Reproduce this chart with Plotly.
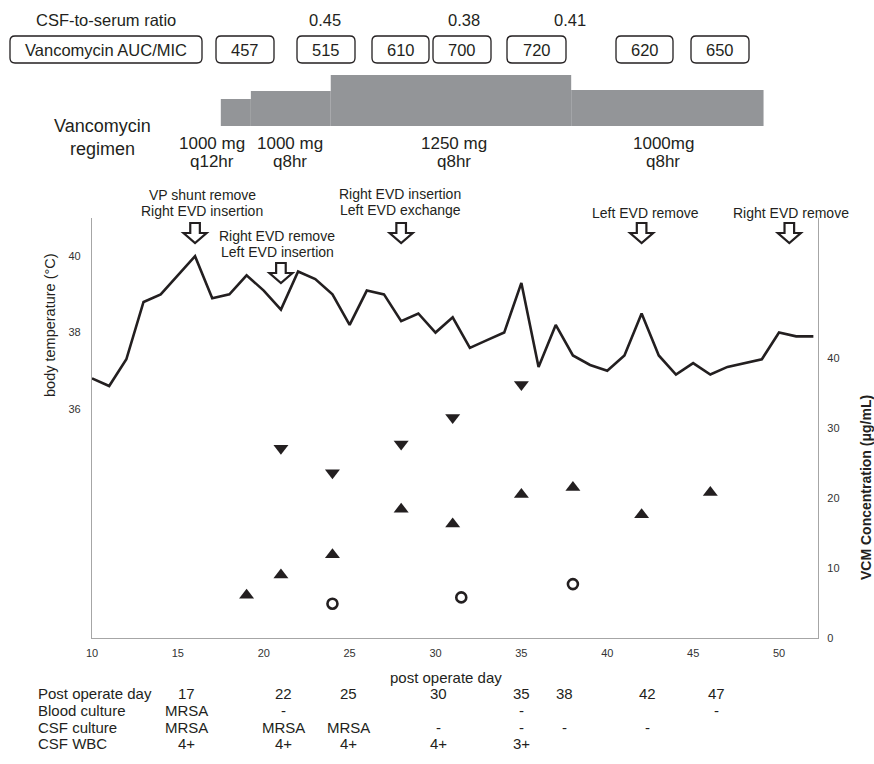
import plotly.graph_objects as go

# ---------------- data ----------------
days = list(range(10, 53))
temperature = [36.8, 36.6, 37.3, 38.8, 39.0, 39.5, 40.0, 38.9, 39.0, 39.5,
               39.1, 38.6, 39.6, 39.4, 39.0, 38.2, 39.1, 39.0, 38.3, 38.5,
               38.0, 38.4, 37.6, 37.8, 38.0, 39.3, 37.1, 38.2, 37.4, 37.15,
               37.0, 37.4, 38.5, 37.4, 36.9, 37.2, 36.9, 37.1, 37.2, 37.3,
               38.0, 37.9, 37.9]

peak_days = [21, 24, 28, 31, 35]
peak_conc = [27.1, 23.6, 27.7, 31.5, 36.2]

trough_days = [19, 21, 24, 28, 31, 35, 38, 42, 46]
trough_conc = [6.1, 9.0, 11.9, 18.4, 16.3, 20.5, 21.5, 17.6, 20.8]

csf_days = [24, 31.5, 38]
csf_conc = [4.9, 5.8, 7.7]

event_days = [16, 21, 28, 42, 50.6]
event_labels = [["VP shunt remove", "Right EVD insertion"],
                ["Right EVD remove", "Left EVD insertion"],
                ["Right EVD insertion", "Left EVD exchange"],
                ["Left EVD remove"],
                ["Right EVD remove"]]

regimen_start = [17.5, 19.25, 23.9, 37.9]
regimen_end = [19.25, 23.9, 37.9, 49.1]
regimen_level = [27, 35, 51, 36]
regimen_labels = [["1000 mg", "q12hr"], ["1000 mg", "q8hr"],
                  ["1250 mg", "q8hr"], ["1000mg", "q8hr"]]

auc_mic = ["457", "515", "610", "700", "720", "620", "650"]
csf_serum_ratio = ["0.45", "0.38", "0.41"]

table_days = ["17", "22", "25", "30", "35", "38", "42", "47"]
blood_culture = ["MRSA", "-", "", "", "-", "", "", "-"]
csf_culture = ["MRSA", "MRSA", "MRSA", "-", "-", "-", "-", ""]
csf_wbc = ["4+", "4+", "4+", "4+", "3+", "", "", ""]

x_ticks = [10, 15, 20, 25, 30, 35, 40, 45, 50]
temp_ticks = [36, 38, 40]
conc_ticks = [0, 10, 20, 30, 40]

# ---------------- layout helpers ----------------
W, H = 874, 764
L, R, T, B = 92, 56, 218, 126
PW, PH = W - L - R, H - T - B
XMAX = 52.27
FONT = "Liberation Sans, Arial, sans-serif"
AX = "#a6a6a6"
INK = "#231f20"


def fx(px):
    return (px - L) / PW


def fy(py):
    return (H - B - py) / PH


def text(cx, cy, t, size, anchor="center", angle=0):
    return dict(x=fx(cx), y=fy(cy), xref="paper", yref="paper", text=t,
                showarrow=False, xanchor=anchor, yanchor="middle",
                textangle=angle, font=dict(size=size, color=INK, family=FONT))


fig = go.Figure()

fig.add_trace(go.Scatter(x=days, y=temperature, mode="lines",
                         line=dict(color=INK, width=2.6), yaxis="y",
                         showlegend=False, hoverinfo="skip"))
fig.add_trace(go.Scatter(x=peak_days, y=peak_conc, mode="markers",
                         marker=dict(symbol="triangle-down", size=13, color=INK),
                         yaxis="y2", showlegend=False))
fig.add_trace(go.Scatter(x=trough_days, y=trough_conc, mode="markers",
                         marker=dict(symbol="triangle-up", size=13, color=INK),
                         yaxis="y2", showlegend=False))
fig.add_trace(go.Scatter(x=csf_days, y=csf_conc, mode="markers",
                         marker=dict(symbol="circle-open", size=10, color=INK,
                                     line=dict(width=2.6, color=INK)),
                         yaxis="y2", showlegend=False))

shapes = []
annotations = []

# event arrows (open block arrows)
arrow_top_px = [223, 263, 223, 223, 223]
day_px = PW / (XMAX - 10)
hw_shaft = 4.8 / day_px
hw_head = 11.5 / day_px
for d, top in zip(event_days, arrow_top_px):
    y_top, y_mid, y_tip = fy(top), fy(top + 10), fy(top + 20)
    path = (f"M {d - hw_shaft} {y_top} L {d + hw_shaft} {y_top} L {d + hw_shaft} {y_mid} "
            f"L {d + hw_head} {y_mid} L {d} {y_tip} L {d - hw_head} {y_mid} "
            f"L {d - hw_shaft} {y_mid} Z")
    shapes.append(dict(type="path", xref="x", yref="paper", path=path,
                       fillcolor="white", line=dict(color=INK, width=2.2)))

# event labels
label_pos = [(202, [195, 211]), (277, [236, 252]), (400, [194, 210]),
             (645, [213]), (791, [213])]
for (cx, ys), lines in zip(label_pos, event_labels):
    for yy, t in zip(ys, lines):
        annotations.append(text(cx, yy, t, 14))

# regimen bars
base_px = 126
for s, e, lv in zip(regimen_start, regimen_end, regimen_level):
    shapes.append(dict(type="rect", xref="x", yref="paper", x0=s, x1=e,
                       y0=fy(base_px), y1=fy(base_px - lv),
                       fillcolor="#939598", line=dict(width=0), layer="above"))
reg_cx = [212, 290, 454, 663]
for cx, lines in zip(reg_cx, regimen_labels):
    for yy, t in zip([143, 161], lines):
        annotations.append(text(cx, yy, t, 17))
for yy, t in zip([126, 149], ["Vancomycin", "regimen"]):
    annotations.append(text(102, yy, t, 18))


def round_box(x0, x1, y0, y1, r=5):
    rx, ry = r / PW, r / PH
    a0, a1, b0, b1 = fx(x0), fx(x1), fy(y1), fy(y0)
    return (f"M {a0 + rx} {b0} L {a1 - rx} {b0} Q {a1} {b0} {a1} {b0 + ry} "
            f"L {a1} {b1 - ry} Q {a1} {b1} {a1 - rx} {b1} L {a0 + rx} {b1} "
            f"Q {a0} {b1} {a0} {b1 - ry} L {a0} {b0 + ry} Q {a0} {b0} {a0 + rx} {b0} Z")


# AUC/MIC boxes
box_y0, box_y1 = 36, 63
shapes.append(dict(type="path", xref="paper", yref="paper",
                   path=round_box(10, 202, box_y0, box_y1),
                   line=dict(color=INK, width=1.3)))
annotations.append(text(106, 50, "Vancomycin AUC/MIC", 16.5))
box_x = [(216, 274), (297, 355), (372, 429), (433, 491), (507, 566),
         (616, 673), (691, 749)]
for (a, b), t in zip(box_x, auc_mic):
    shapes.append(dict(type="path", xref="paper", yref="paper",
                       path=round_box(a, b, box_y0, box_y1),
                       line=dict(color=INK, width=1.3)))
    annotations.append(text((a + b) / 2, 50, t, 16.5))

# CSF-to-serum ratio
annotations.append(text(106, 20, "CSF-to-serum ratio", 16.5))
for cx, t in zip([325, 464, 570], csf_serum_ratio):
    annotations.append(text(cx, 20, t, 16.5))

# axis titles
annotations.append(text(446, 677, "post operate day", 15))
annotations.append(text(50, 325, "body temperature (°C)", 14.5, angle=-90))
annotations.append(text(866, 488, "<b>VCM Concentration (μg/mL)</b>", 14,
                        angle=-90))

# bottom table
row_y = [693, 710, 727, 743]
row_names = ["Post operate day", "Blood culture", "CSF culture", "CSF WBC"]
col_x = [186, 283, 348, 438, 521, 564, 647, 716]
for yy, name, vals in zip(row_y, row_names,
                          [table_days, blood_culture, csf_culture, csf_wbc]):
    annotations.append(text(36, yy, name, 15, anchor="left"))
    for cx, v in zip(col_x, vals):
        if v:
            annotations.append(text(cx, yy, v, 15))

fig.update_layout(
    width=W, height=H, autosize=False,
    margin=dict(l=L, r=R, t=T, b=B),
    paper_bgcolor="white", plot_bgcolor="white",
    showlegend=False,
    shapes=shapes, annotations=annotations,
    xaxis=dict(range=[10, XMAX], tickvals=x_ticks, showgrid=False,
               zeroline=False, showline=True, linecolor=AX, linewidth=1.2,
               ticks="outside", ticklen=5, tickcolor="rgba(0,0,0,0)",
               automargin=False,
               tickfont=dict(size=11, color="#333", family=FONT)),
    yaxis=dict(range=[30, 41], tickvals=temp_ticks, showgrid=False,
               zeroline=False, showline=True, linecolor=AX, linewidth=1.2,
               ticks="outside", ticklen=8, tickcolor="rgba(0,0,0,0)",
               automargin=False,
               tickfont=dict(size=11, color="#333", family=FONT)),
    yaxis2=dict(range=[0, 60], tickvals=conc_ticks, overlaying="y",
                side="right", showgrid=False, zeroline=False, showline=True,
                linecolor=AX, linewidth=1.2, ticks="outside", ticklen=6,
                tickcolor="rgba(0,0,0,0)", automargin=False,
                tickfont=dict(size=11, color="#333", family=FONT)),
)

fig.write_html("out.html", config={"displayModeBar": False},
               post_script="document.body.style.margin='0px';")
